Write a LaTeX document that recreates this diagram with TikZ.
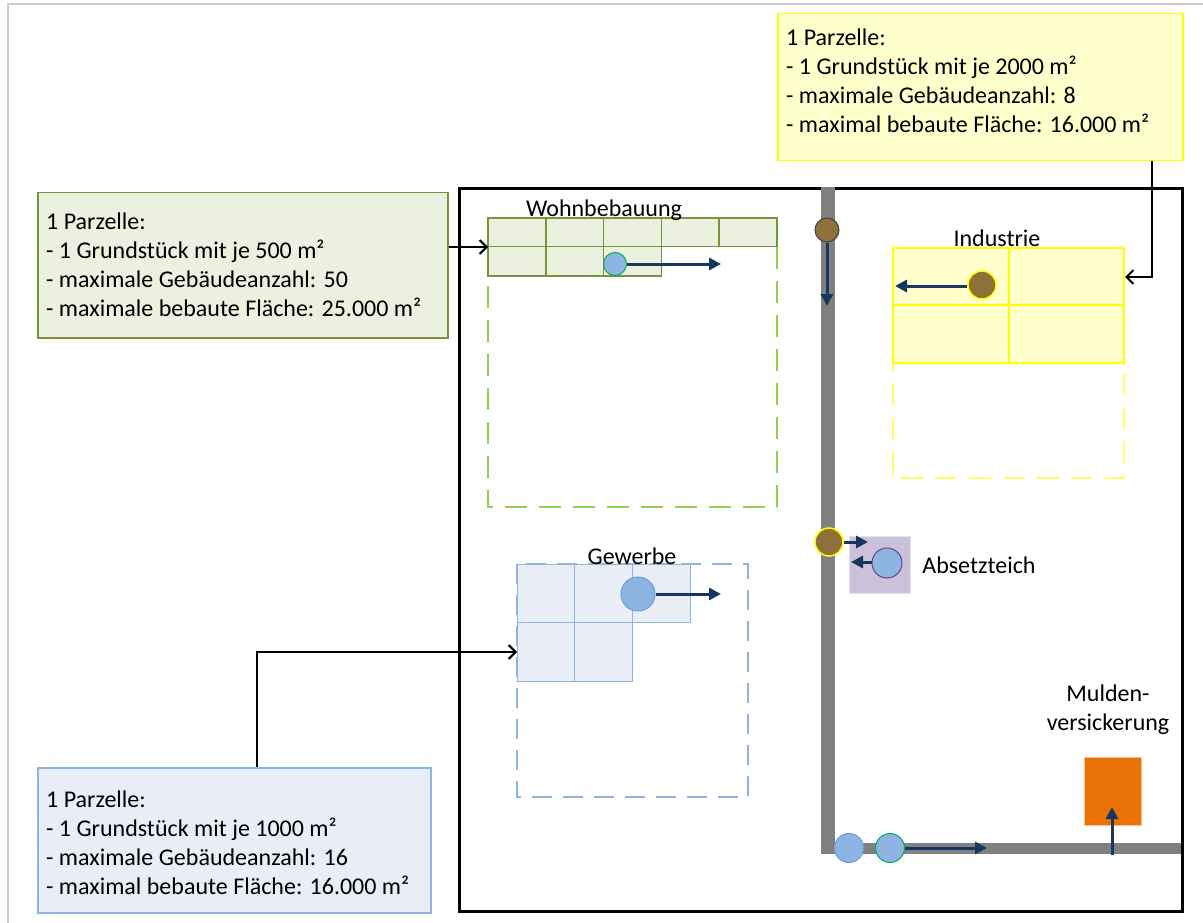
\documentclass[tikz,border=0pt]{standalone}
\usepackage{fontspec}
\setmainfont{Carlito}
\usetikzlibrary{arrows.meta}

\definecolor{greenfill}{HTML}{EBF1DE}
\definecolor{greenline}{HTML}{77933C}
\definecolor{greendash}{HTML}{92D050}
\definecolor{yellowfill}{HTML}{FFFFCC}
\definecolor{yellowline}{HTML}{FFFF00}
\definecolor{yellowdash}{HTML}{FFFF66}
\definecolor{bluefill}{HTML}{E9EEF6}
\definecolor{blueline}{HTML}{8EB4E3}
\definecolor{bluedark}{HTML}{6C9BD8}
\definecolor{flowblue}{HTML}{17375E}
\definecolor{sludge}{HTML}{8E713A}
\definecolor{pondfill}{HTML}{CCC1DA}
\definecolor{pondline}{HTML}{DCE6F2}
\definecolor{pondring}{HTML}{5F497A}
\definecolor{swale}{HTML}{E97106}
\definecolor{swaleline}{HTML}{FAC090}
\definecolor{roadgray}{HTML}{808080}
\definecolor{ringgreen}{HTML}{00B050}

\begin{document}
\begin{tikzpicture}[x=1pt,y=-1pt,
  flow/.style={draw=flowblue, line width=3pt, -{Triangle[length=12pt,width=12pt]}},
  link/.style={draw=black, line width=2pt, -{Straight Barb[length=7pt,width=14pt]}},
  caption/.style={font=\fontsize{24}{29}\selectfont, inner sep=0pt},
  infotext/.style={font=\fontsize{24}{29}\selectfont, inner sep=0pt, align=left, anchor=west},
  infobox/.style={rectangle, inner sep=0pt, line width=1.5pt, anchor=north west},
  dot/.style={circle, inner sep=0pt, line width=1pt},
  cellgreen/.style={draw=greenline, line width=1.5pt},
  cellyellow/.style={draw=yellowline, line width=2pt},
  cellblue/.style={draw=blueline, line width=1pt},
  zone/.style={line width=2.5pt, dash pattern=on 22pt off 12pt}
]
\useasboundingbox (0,0) rectangle (1203,923);

% page frame
\draw[black!20, line width=1.5pt] (8,923) -- (8,4) -- (1203,4);

% site boundary
\draw[line width=3pt] (459,189) rectangle (1182,911);

% collector channel
\fill[roadgray] (821,187) rectangle (835,854);
\fill[roadgray] (821,843) rectangle (1181,854);

% residential zone: plots filled first, then outlined
\draw[zone, draw=greendash] (488,218) rectangle (777,507);
\fill[greenfill] (488,218) rectangle (777,246.5);
\fill[greenfill] (488,246.5) rectangle (661.4,276);
\foreach \i in {0,...,4}
  \draw[cellgreen] (488+\i*57.8,218) rectangle ++(57.8,28.5);
\foreach \i in {0,...,2}
  \draw[cellgreen] (488+\i*57.8,246.5) rectangle ++(57.8,29.5);
\node[caption] (wlabel) at (604,210) {Wohnbebauung};

% industrial zone
\draw[zone, draw=yellowdash] (893,248) rectangle (1124,478);
\fill[yellowfill] (893,248) rectangle (1124,363);
\foreach \i in {0,1}
  \foreach \j in {0,1}
    \draw[cellyellow] (893+\i*115.5,248+\j*57) rectangle ++(115.5,57+\j);
\node[caption] (ilabel) at (997,238) {Industrie};

% commercial zone
\draw[zone, draw=blueline, dash pattern=on 20pt off 11pt] (517,564) rectangle (748,797);
\fill[bluefill] (517,564) rectangle (690.1,622.5);
\fill[bluefill] (517,622.5) rectangle (632.4,681);
\foreach \i in {0,...,2}
  \draw[cellblue] (517+\i*57.7,564) rectangle ++(57.7,58.5);
\foreach \i in {0,1}
  \draw[cellblue] (517+\i*57.7,622.5) rectangle ++(57.7,58.5);
\node[caption] (glabel) at (632,556) {Gewerbe};

% settling pond
\draw[fill=pondfill, draw=pondline, line width=1pt] (849,536) rectangle (910,593);
\node[caption] (plabel) at (979,565) {Absetzteich};

% infiltration swale
\draw[fill=swale, draw=swaleline, line width=1pt] (1084,757) rectangle (1141,825);
\node[caption, align=center] (slabel) at (1108,710) {Mulden-\\versickerung};

% discharge points
\node[dot, minimum size=23pt, fill=blueline, draw=ringgreen] (wdot) at (615,264) {};
\node[dot, minimum size=24pt, fill=sludge, draw=black!75] (rdot) at (827,230) {};
\node[dot, minimum size=28pt, fill=sludge, draw=yellowline, line width=1.5pt] (idot) at (982,285) {};
\node[dot, minimum size=28pt, fill=sludge, draw=yellowline, line width=1.5pt] (pin) at (829,542) {};
\node[dot, minimum size=30pt, fill=blueline, draw=pondring] (pout) at (887,563) {};
\node[dot, minimum size=34pt, fill=blueline, draw=bluedark] (gdot) at (638,594) {};
\node[dot, minimum size=29pt, fill=blueline, draw=bluedark] (bdot1) at (849,848) {};
\node[dot, minimum size=29pt, fill=blueline, draw=ringgreen] (bdot2) at (890,848) {};

% flow directions
\coordinate (wflow) at (721,264);
\coordinate (rflow) at (827,306);
\coordinate (iflow) at (895,286);
\coordinate (pinflow) at (868,542);
\coordinate (poutflow) at (851,562);
\coordinate (gflow) at (721,594);
\coordinate (bflow) at (987,848);
\coordinate (sstart) at (1112,855);
\coordinate (sflow) at (1112,807);
\draw[flow] (wdot.east) -- (wflow);
\draw[flow] (rdot.south) -- (rflow);
\draw[flow] (idot.west |- iflow) -- (iflow);
\draw[flow] (pin.east) -- (pinflow);
\draw[flow] (pout.west |- poutflow) -- (poutflow);
\draw[flow] (gdot.east) -- (gflow);
\draw[flow] (bdot2.east) -- (bflow);
\draw[flow] (sstart) -- (sflow);

% info boxes
\node[infobox, fill=greenfill, draw=greenline, minimum width=410pt, minimum height=145pt] (winfo) at (37,192) {};
\node[infotext] (wtext) at (46,265) {1 Parzelle:\\- 1 Grundstück mit je 500 m²\\- maximale Gebäudeanzahl: 50\\- maximale bebaute Fläche: 25.000 m²};

\node[infobox, fill=yellowfill, draw=yellowline, minimum width=405pt, minimum height=147pt] (iinfo) at (777,13) {};
\node[infotext] (itext) at (786,81) {1 Parzelle:\\- 1 Grundstück mit je 2000 m²\\- maximale Gebäudeanzahl: 8\\- maximal bebaute Fläche: 16.000 m²};

\node[infobox, fill=bluefill, draw=blueline, minimum width=393pt, minimum height=145pt] (ginfo) at (37,767) {};
\node[infotext] (gtext) at (46,843) {1 Parzelle:\\- 1 Grundstück mit je 1000 m²\\- maximale Gebäudeanzahl: 16\\- maximal bebaute Fläche: 16.000 m²};

% pointers from info boxes to the zones
\coordinate (wtarget) at (488,247);
\draw[link] (winfo.east |- wtarget) -- (wtarget);
\coordinate (ibend) at (1152,277);
\coordinate (itarget) at (1125,277);
\draw[link] (ibend |- iinfo.south) -- (ibend) -- (itarget);
\coordinate (gbend) at (257,652);
\coordinate (gtarget) at (517,652);
\draw[link] (gbend |- ginfo.north) -- (gbend) -- (gtarget);
\end{tikzpicture}
\end{document}
